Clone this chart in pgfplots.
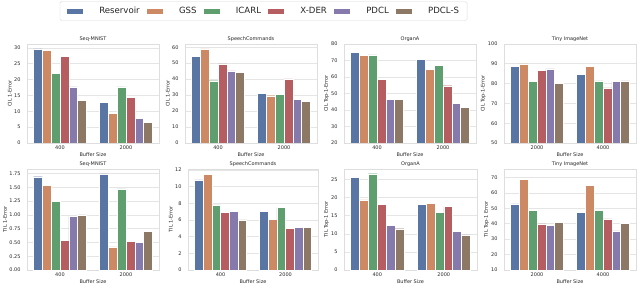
\documentclass[border=0pt]{standalone}
\usepackage{fontspec}
\setmainfont{DejaVu Sans}
\usepackage{pgfplots}
\pgfplotsset{compat=1.18}
\definecolor{cRes}{HTML}{5975A4}
\definecolor{cGSS}{HTML}{CC8963}
\definecolor{cICA}{HTML}{5F9E6E}
\definecolor{cXDE}{HTML}{B55D60}
\definecolor{cPDC}{HTML}{857AAB}
\definecolor{cPDS}{HTML}{8D7866}
\definecolor{txt}{HTML}{262626}
\pgfplotsset{
 panel/.style={
  scale only axis, anchor=south west,
  ybar=0pt, bar width=0.13333,
  xmin=-0.5, xmax=1.5, xtick={0,1},
  major tick length=0pt,
  axis line style={draw=black!13, line width=0.6pt},
  ymajorgrids, grid style={draw=black!10, line width=0.6pt},
  tick label style={font=\fontsize{5}{6}\selectfont, text=txt},
  label style={font=\fontsize{5}{6}\selectfont, text=txt},
  every axis title shift=1bp,
  title style={font=\fontsize{5}{6}\selectfont, text=txt, at={(0.5,1)}, anchor=south, yshift=0pt, inner sep=1bp},
  /pgf/number format/assume math mode=true,
  xlabel={Buffer Size},
  xlabel style={yshift=3pt},
  ylabel style={yshift=-4.5pt},
  xticklabel style={yshift=1pt},
  yticklabel style={xshift=-3bp},
  legend image code/.code={\fill[##1, sharp corners] (0bp,-3bp) rectangle (17bp,3bp);},
 }
}
\begin{document}
\begin{tikzpicture}[x=1bp,y=1bp]
\useasboundingbox (0,0) rectangle (640,303);
% ---- CIL Seq-MNIST
\begin{axis}[panel, at={(27bp,160bp)}, width=132bp, height=99bp,
  title={Seq-MNIST}, ylabel={CIL 1-Error}, xticklabels={400,2000},
  ymin=0, ymax=31.2, ytick={0,5,...,30},
  legend style={at={(1.792,1.333)}, anchor=center, legend columns=6,
    draw=black!15, rounded corners=1.5pt, font=\fontsize{8.6}{10}\selectfont, text=txt,
    inner xsep=6bp, inner ysep=3.5bp,
    /tikz/every even column/.append style={column sep=4bp},
    /tikz/every odd column/.append style={column sep=14bp}}]
\addplot[fill=cRes, draw=white] coordinates {(0,29.7) (1,12.9)};
\addplot[fill=cGSS, draw=white] coordinates {(0,29.2) (1,9.4)};
\addplot[fill=cICA, draw=white] coordinates {(0,21.9) (1,17.7)};
\addplot[fill=cXDE, draw=white] coordinates {(0,27.3) (1,14.3)};
\addplot[fill=cPDC, draw=white] coordinates {(0,17.7) (1,7.8)};
\addplot[fill=cPDS, draw=white] coordinates {(0,13.4) (1,6.4)};
\addlegendentry{Reservoir}
\addlegendentry{GSS}
\addlegendentry{ICARL}
\addlegendentry{X-DER}
\addlegendentry{PDCL}
\addlegendentry{PDCL-S}
\end{axis}
% ---- CIL SpeechCommands
\begin{axis}[panel, at={(185bp,160bp)}, width=132bp, height=99bp,
  title={SpeechCommands}, ylabel={CIL 1-Error}, xticklabels={400,2000},
  ymin=0, ymax=62, ytick={0,10,...,60}]
\addplot[fill=cRes, draw=white] coordinates {(0,54.2) (1,31.2)};
\addplot[fill=cGSS, draw=white] coordinates {(0,59.0) (1,29.6)};
\addplot[fill=cICA, draw=white] coordinates {(0,39.0) (1,30.4)};
\addplot[fill=cXDE, draw=white] coordinates {(0,49.6) (1,40.2)};
\addplot[fill=cPDC, draw=white] coordinates {(0,45.2) (1,27.5)};
\addplot[fill=cPDS, draw=white] coordinates {(0,44.2) (1,26.3)};
\end{axis}
% ---- CIL OrganA
\begin{axis}[panel, at={(344bp,160bp)}, width=132bp, height=99bp,
  title={OrganA}, ylabel={CIL Top-1-Error}, xticklabels={400,2000},
  ymin=20, ymax=80, ytick={20,30,...,80}]
\addplot[fill=cRes, draw=white] coordinates {(0,74.8) (1,70.8)};
\addplot[fill=cGSS, draw=white] coordinates {(0,73.2) (1,64.6)};
\addplot[fill=cICA, draw=white] coordinates {(0,73.4) (1,67.2)};
\addplot[fill=cXDE, draw=white] coordinates {(0,58.7) (1,54.7)};
\addplot[fill=cPDC, draw=white] coordinates {(0,46.4) (1,44.2)};
\addplot[fill=cPDS, draw=white] coordinates {(0,46.4) (1,41.6)};
\end{axis}
% ---- CIL Tiny ImageNet
\begin{axis}[panel, at={(504bp,160bp)}, width=132bp, height=99bp,
  title={Tiny ImageNet}, ylabel={CIL Top-1-Error}, xticklabels={2000,4000},
  ymin=50, ymax=100, ytick={50,60,...,100}]
\addplot[fill=cRes, draw=white] coordinates {(0,88.6) (1,84.5)};
\addplot[fill=cGSS, draw=white] coordinates {(0,90.0) (1,88.8)};
\addplot[fill=cICA, draw=white] coordinates {(0,81.0) (1,81.4)};
\addplot[fill=cXDE, draw=white] coordinates {(0,86.7) (1,77.9)};
\addplot[fill=cPDC, draw=white] coordinates {(0,87.4) (1,81.0)};
\addplot[fill=cPDS, draw=white] coordinates {(0,80.2) (1,81.4)};
\end{axis}
% ---- TIL Seq-MNIST
\begin{axis}[panel, at={(27bp,33bp)}, width=132bp, height=101bp,
  title={Seq-MNIST}, ylabel={TIL 1-Error}, xticklabels={400,2000},
  ymin=0, ymax=1.83, ytick={0,0.25,...,1.75},
  yticklabel style={/pgf/number format/.cd, fixed, fixed zerofill, precision=2}]
\addplot[fill=cRes, draw=white] coordinates {(0,1.69) (1,1.74)};
\addplot[fill=cGSS, draw=white] coordinates {(0,1.53) (1,0.42)};
\addplot[fill=cICA, draw=white] coordinates {(0,1.25) (1,1.47)};
\addplot[fill=cXDE, draw=white] coordinates {(0,0.54) (1,0.52)};
\addplot[fill=cPDC, draw=white] coordinates {(0,0.97) (1,0.50)};
\addplot[fill=cPDS, draw=white] coordinates {(0,1.00) (1,0.70)};
\end{axis}
% ---- TIL SpeechCommands
\begin{axis}[panel, at={(188bp,33bp)}, width=130bp, height=101bp,
  title={SpeechCommands}, ylabel={TIL 1-Error}, xticklabels={400,2000},
  ymin=0, ymax=12.1, ytick={0,2,...,12}]
\addplot[fill=cRes, draw=white] coordinates {(0,10.8) (1,7.0)};
\addplot[fill=cGSS, draw=white] coordinates {(0,11.5) (1,6.1)};
\addplot[fill=cICA, draw=white] coordinates {(0,7.8) (1,7.5)};
\addplot[fill=cXDE, draw=white] coordinates {(0,6.9) (1,5.0)};
\addplot[fill=cPDC, draw=white] coordinates {(0,7.0) (1,5.1)};
\addplot[fill=cPDS, draw=white] coordinates {(0,6.0) (1,5.1)};
\end{axis}
% ---- TIL OrganA
\begin{axis}[panel, at={(344bp,33bp)}, width=133bp, height=101bp,
  title={OrganA}, ylabel={TIL Top-1 Error}, xticklabels={400,2000},
  ymin=0, ymax=27.9, ytick={0,5,...,25}]
\addplot[fill=cRes, draw=white] coordinates {(0,25.5) (1,18.2)};
\addplot[fill=cGSS, draw=white] coordinates {(0,19.4) (1,18.5)};
\addplot[fill=cICA, draw=white] coordinates {(0,26.6) (1,16.0)};
\addplot[fill=cXDE, draw=white] coordinates {(0,18.2) (1,17.5)};
\addplot[fill=cPDC, draw=white] coordinates {(0,12.4) (1,10.6)};
\addplot[fill=cPDS, draw=white] coordinates {(0,11.4) (1,9.7)};
\end{axis}
% ---- TIL Tiny ImageNet
\begin{axis}[panel, at={(504bp,33bp)}, width=132bp, height=101bp,
  title={Tiny ImageNet}, ylabel={TIL Top-1 Error}, xticklabels={2000,4000},
  ymin=10, ymax=75.5, ytick={10,20,...,70}]
\addplot[fill=cRes, draw=white] coordinates {(0,52.9) (1,47.4)};
\addplot[fill=cGSS, draw=white] coordinates {(0,68.9) (1,64.9)};
\addplot[fill=cICA, draw=white] coordinates {(0,48.7) (1,48.7)};
\addplot[fill=cXDE, draw=white] coordinates {(0,39.9) (1,43.2)};
\addplot[fill=cPDC, draw=white] coordinates {(0,38.8) (1,35.3)};
\addplot[fill=cPDS, draw=white] coordinates {(0,41.0) (1,40.3)};
\end{axis}
\end{tikzpicture}
\end{document}
